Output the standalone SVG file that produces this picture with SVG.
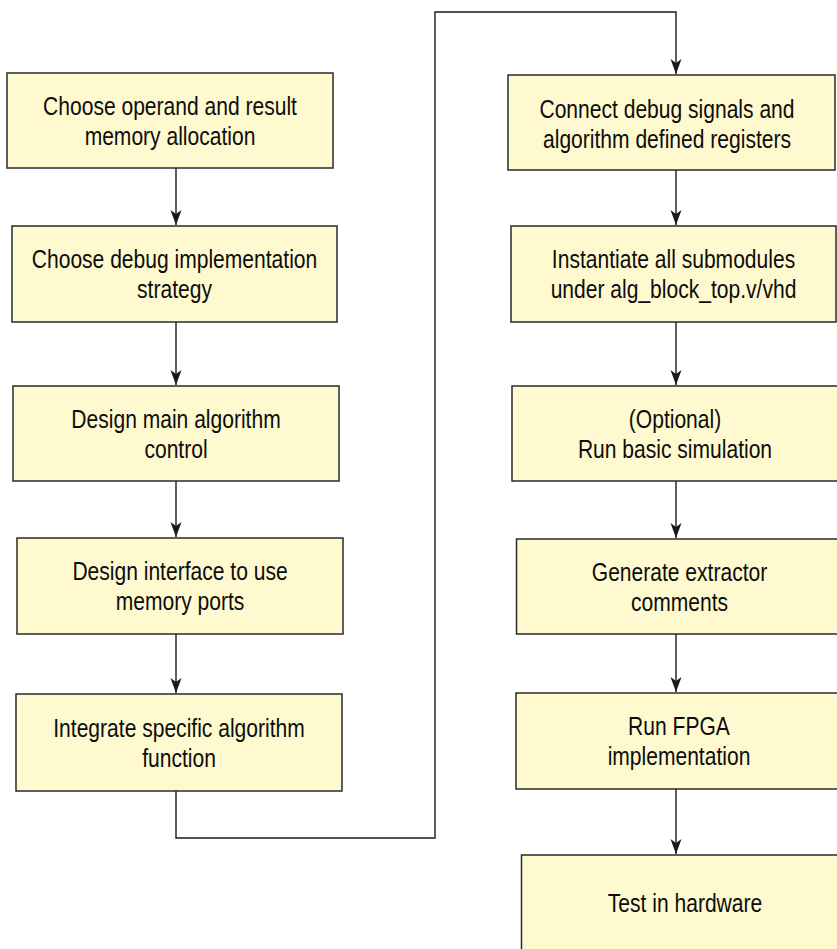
<svg xmlns="http://www.w3.org/2000/svg" width="837" height="949" viewBox="0 0 837 949">
<style>
.box{fill:#FFF9CF;stroke:#2a2a2a;stroke-width:1.5}
.lbl{font-family:"Liberation Sans",Arial,sans-serif;font-size:26px;fill:#0d0d0d;text-anchor:middle}
.con{fill:none;stroke:#1a1a1a;stroke-width:1.4}
</style>
<defs>
<marker id="ah" viewBox="-16 -6 17 12" refX="0" refY="0" markerWidth="17" markerHeight="12" markerUnits="userSpaceOnUse" orient="auto">
<path d="M0,0 L-15,-5.5 L-11,0 L-15,5.5 Z" fill="#1a1a1a"/>
</marker>
</defs>
<rect width="837" height="949" fill="#ffffff"/>
<g id="connectors">
<path class="con" d="M176,168 V225" marker-end="url(#ah)"/>
<path class="con" d="M176,322 V385" marker-end="url(#ah)"/>
<path class="con" d="M176,481 V537" marker-end="url(#ah)"/>
<path class="con" d="M176,634 V693" marker-end="url(#ah)"/>
<path class="con" d="M176,791 V838 H435 V12 H676 V74" marker-end="url(#ah)"/>
<path class="con" d="M676,170 V225" marker-end="url(#ah)"/>
<path class="con" d="M676,322 V385" marker-end="url(#ah)"/>
<path class="con" d="M676,481 V538" marker-end="url(#ah)"/>
<path class="con" d="M676,634 V692" marker-end="url(#ah)"/>
<path class="con" d="M676,789 V854" marker-end="url(#ah)"/>
</g>
<g id="n1"><rect class="box" x="7" y="73" width="326" height="95"/>
<text class="lbl" transform="translate(170,114.8) scale(0.81,1)"><tspan x="0" y="0">Choose operand and result</tspan><tspan x="0" y="30">memory allocation</tspan></text></g>
<g id="n2"><rect class="box" x="12" y="226" width="325" height="96"/>
<text class="lbl" transform="translate(174.5,268.3) scale(0.81,1)"><tspan x="0" y="0">Choose debug implementation</tspan><tspan x="0" y="30">strategy</tspan></text></g>
<g id="n3"><rect class="box" x="13" y="386" width="326" height="95"/>
<text class="lbl" transform="translate(176,427.8) scale(0.81,1)"><tspan x="0" y="0">Design main algorithm</tspan><tspan x="0" y="30">control</tspan></text></g>
<g id="n4"><rect class="box" x="17" y="538" width="326" height="96"/>
<text class="lbl" transform="translate(180,580.3) scale(0.81,1)"><tspan x="0" y="0">Design interface to use</tspan><tspan x="0" y="30">memory ports</tspan></text></g>
<g id="n5"><rect class="box" x="16" y="694" width="326" height="97"/>
<text class="lbl" transform="translate(179,736.8) scale(0.81,1)"><tspan x="0" y="0">Integrate specific algorithm</tspan><tspan x="0" y="30">function</tspan></text></g>
<g id="n6"><rect class="box" x="508" y="75" width="327" height="95"/>
<text class="lbl" transform="translate(667,118) scale(0.81,1)"><tspan x="0" y="0">Connect debug signals and</tspan><tspan x="0" y="30">algorithm defined registers</tspan></text></g>
<g id="n7"><rect class="box" x="511" y="226" width="325" height="96"/>
<text class="lbl" transform="translate(673.5,268.3) scale(0.81,1)"><tspan x="0" y="0">Instantiate all submodules</tspan><tspan x="0" y="30">under alg_block_top.v/vhd</tspan></text></g>
<g id="n8"><rect class="box" x="512" y="386" width="326" height="95"/>
<text class="lbl" transform="translate(675,427.8) scale(0.81,1)"><tspan x="0" y="0">(Optional)</tspan><tspan x="0" y="30">Run basic simulation</tspan></text></g>
<g id="n9"><rect class="box" x="516.5" y="539" width="326" height="95"/>
<text class="lbl" transform="translate(679.5,580.8) scale(0.81,1)"><tspan x="0" y="0">Generate extractor</tspan><tspan x="0" y="30">comments</tspan></text></g>
<g id="n10"><rect class="box" x="516" y="693" width="326" height="96"/>
<text class="lbl" transform="translate(679,735.3) scale(0.81,1)"><tspan x="0" y="0">Run FPGA</tspan><tspan x="0" y="30">implementation</tspan></text></g>
<g id="n11"><rect class="box" x="521.5" y="855" width="326" height="98"/>
<text class="lbl" transform="translate(685,912.3) scale(0.81,1)">Test in hardware</text></g>
</svg>
